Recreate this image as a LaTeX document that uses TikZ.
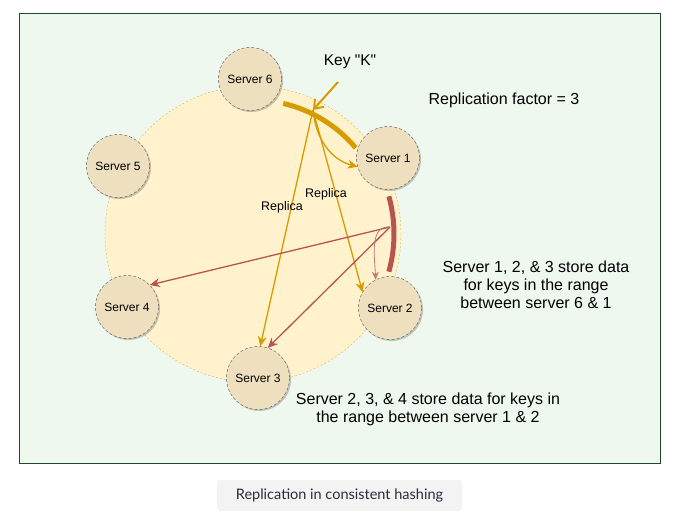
\documentclass[tikz,border=0pt]{standalone}
\usepackage{fontspec}
\setmainfont{Liberation Sans}
\newfontfamily\capfont{Lato}
\usetikzlibrary{arrows.meta, shadows}

\definecolor{framefill}{HTML}{EFF8EE}
\definecolor{frameline}{HTML}{1F4A2C}
\definecolor{ringfill}{HTML}{FFF2CC}
\definecolor{ringline}{HTML}{D6B656}
\definecolor{serverfill}{HTML}{EEE0BF}
\definecolor{keyorange}{HTML}{D79B00}
\definecolor{replred}{HTML}{B85450}
\definecolor{capfill}{HTML}{F3F3F3}
\definecolor{captext}{HTML}{2B2B3B}

\tikzset{
  server/.style={circle, draw=black!65, dash pattern=on 3pt off 2pt, fill=serverfill,
    minimum size=63pt, inner sep=0pt, font=\fontsize{12}{14}\selectfont,
    drop shadow={shadow xshift=1.5pt, shadow yshift=-1.5pt, opacity=0.3, fill=black!70}},
  orangeline/.style={draw=keyorange, line width=1.3pt, -{Stealth[length=10pt, width=9pt]}},
  redline/.style={draw=replred, line width=1.3pt, -{Stealth[length=10pt, width=9pt]}},
  note/.style={align=center, font=\fontsize{16}{18}\selectfont},
}

\begin{document}
\begin{tikzpicture}[x=1pt, y=1pt]
	\useasboundingbox (0,0) rectangle (677,523);
	\draw [frameline, fill=framefill] (19,510) rectangle (660,60);

	\node [circle, draw=ringline, dash pattern=on 2pt off 2pt, fill=ringfill, minimum size=296pt] (ring) at (253,289) {};

	\draw [keyorange, line width=5pt] (ring.center) ++(77:134) arc [start angle=77, end angle=40, radius=134];
	\draw [replred, line width=5pt] (ring.center) ++(15.5:141) arc [start angle=15.5, end angle=-15.5, radius=141];

	\node [server] (s6) at (250,444) {Server 6};
	\node [server] (s1) at (388,365) {Server 1};
	\node [server] (s2) at (390,215) {Server 2};
	\node [server] (s3) at (258,145) {Server 3};
	\node [server] (s4) at (127,216) {Server 4};
	\node [server] (s5) at (118,357) {Server 5};

	\coordinate (K) at (313,413);
	\coordinate (keytail) at (338,441);
	\coordinate (R) at (390,296);

	\draw [keyorange, line width=2pt, -{Straight Barb[length=8pt, width=12pt]}] (keytail) -- (K);
	\draw [orangeline] (K) -- (s3.86);
	\draw [orangeline] (K) -- (s2.150);
	\draw [orangeline] (K) to [out=-85, in=165] (s1.196);

	\draw [redline] (R) -- (s4.44);
	\draw [redline] (R) -- (s3.72);
	\draw [draw=replred!80, line width=0.8pt, -{Stealth[length=8pt, width=7pt]}] (R) to [out=175, in=92] (s2.117);

	\node [font=\fontsize{12.5}{14}\selectfont] (rep1) at (282,316) {Replica};
	\node [font=\fontsize{12.5}{14}\selectfont] (rep2) at (326,329) {Replica};
	\node [font=\fontsize{15.5}{18}\selectfont] (key) at (350,461) {Key \textquotedbl K\textquotedbl};
	\node [note] (factor) at (504,423) {Replication factor = 3};
	\node [note] (range61) at (536,238) {Server 1, 2, \& 3 store data\\for keys in the range\\between server 6 \& 1};
	\node [note] (range12) at (428,114) {Server 2, 3, \& 4 store data for keys in\\the range between server 1 \& 2};

	\node [fill=capfill, rounded corners=3pt, minimum width=245pt, minimum height=31pt, text=captext, font=\capfont\fontsize{14.5}{16}\selectfont] (caption) at (339.5,27.5) {Replication in consistent hashing};
\end{tikzpicture}
\end{document}
